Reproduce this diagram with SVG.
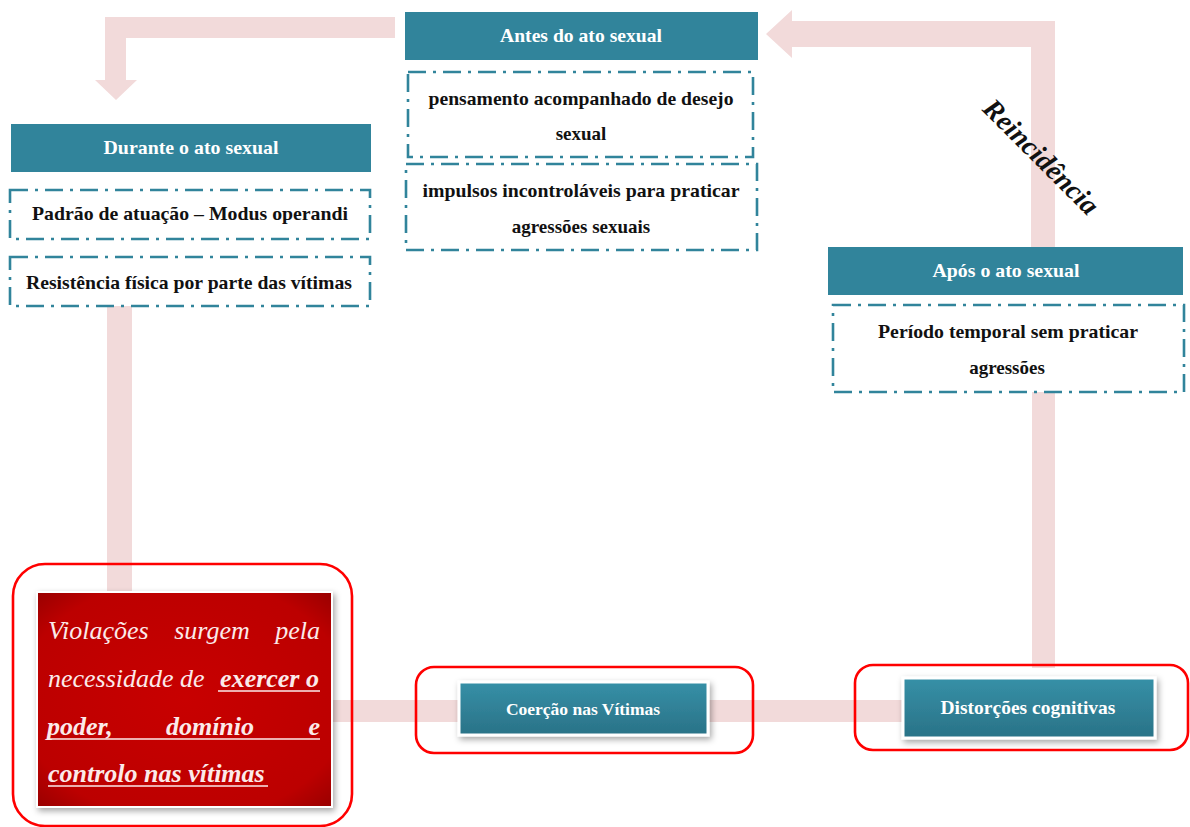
<svg xmlns="http://www.w3.org/2000/svg" width="1190" height="827" viewBox="0 0 1190 827">
<defs>
<style>
.band{fill:#F2DADA}
.hdr{fill:#31849B}
.hdrt{font-family:"Liberation Serif",serif;font-weight:bold;font-size:19px;fill:#FFFFFF;text-anchor:middle}
.dd{fill:#FFFFFF;stroke:#31849B;stroke-width:2.6;stroke-dasharray:18 7 3 7}
.bt{font-family:"Liberation Serif",serif;font-weight:bold;font-size:19px;fill:#111111;text-anchor:middle}
.frame{fill:none;stroke:#FF0000;stroke-width:2.6}
.btn{fill:url(#tg);stroke:#FFFFFF;stroke-width:3;filter:url(#sh)}
.btnt{font-family:"Liberation Serif",serif;font-weight:bold;fill:#FFFFFF;text-anchor:middle}
.vt{font-family:"Liberation Serif",serif;font-style:italic;font-size:26px;fill:#FBEAEA}
.vb{font-weight:bold}
.ul{stroke:#FBEAEA;stroke-width:1.6}
</style>
<linearGradient id="tg" x1="0" y1="0" x2="0" y2="1">
<stop offset="0" stop-color="#3690A7"/>
<stop offset="1" stop-color="#2A7287"/>
</linearGradient>
<radialGradient id="rg" cx="0.5" cy="0.5" r="0.7">
<stop offset="0" stop-color="#C80000"/>
<stop offset="0.8" stop-color="#BC0000"/>
<stop offset="1" stop-color="#9A0000"/>
</radialGradient>
<filter id="sh" x="-10%" y="-20%" width="125%" height="150%">
<feDropShadow dx="2" dy="3" stdDeviation="3" flood-color="#000000" flood-opacity="0.35"/>
</filter>
</defs>

<g id="connectors">
<path class="band" d="M395,17 L105,17 L105,80 L95,80 L116,100 L137,80 L126,80 L126,38 L395,38 Z"/>
<path class="band" d="M766,34 L792,10 L792,21 L1055,21 L1055,247 L1031,247 L1031,47 L792,47 L792,58 Z"/>
<rect class="band" x="107" y="306" width="25" height="290"/>
<rect class="band" x="1032" y="392" width="23" height="276"/>
<rect class="band" x="330" y="700" width="580" height="22"/>
</g>

<g id="antes">
<rect class="hdr" x="405" y="12" width="353" height="48"/>
<text class="hdrt" x="581" y="42" textLength="162" lengthAdjust="spacingAndGlyphs">Antes do ato sexual</text>
</g>
<g id="antes-1">
<rect class="dd" x="408" y="72" width="345" height="85"/>
<text class="bt" x="581" y="105" textLength="305" lengthAdjust="spacingAndGlyphs">pensamento acompanhado de desejo</text>
<text class="bt" x="581" y="140">sexual</text>
</g>
<g id="antes-2">
<rect class="dd" x="406" y="164" width="351" height="86"/>
<text class="bt" x="581" y="197" textLength="317" lengthAdjust="spacingAndGlyphs">impulsos incontroláveis para praticar</text>
<text class="bt" x="581" y="233">agressões sexuais</text>
</g>

<g id="durante">
<rect class="hdr" x="11" y="124" width="360" height="48"/>
<text class="hdrt" x="191" y="154" textLength="175" lengthAdjust="spacingAndGlyphs">Durante o ato sexual</text>
</g>
<g id="durante-1">
<rect class="dd" x="10" y="190" width="360" height="49"/>
<text class="bt" x="190" y="220" textLength="316" lengthAdjust="spacingAndGlyphs">Padrão de atuação – Modus operandi</text>
</g>
<g id="durante-2">
<rect class="dd" x="10" y="257" width="360" height="49"/>
<text class="bt" x="189" y="289" textLength="326" lengthAdjust="spacingAndGlyphs">Resistência física por parte das vítimas</text>
</g>

<g id="apos">
<rect class="hdr" x="828" y="247" width="355" height="48"/>
<text class="hdrt" x="1006" y="277" textLength="147" lengthAdjust="spacingAndGlyphs">Após o ato sexual</text>
</g>
<g id="apos-1">
<rect class="dd" x="833" y="305" width="351" height="87"/>
<text class="bt" x="1008" y="338" textLength="260" lengthAdjust="spacingAndGlyphs">Período temporal sem praticar</text>
<text class="bt" x="1007" y="374">agressões</text>
</g>

<g id="reincidencia">
<text transform="translate(1041,157) rotate(45)" x="0" y="9" font-family="Liberation Serif, serif" font-weight="bold" font-style="italic" font-size="28" text-anchor="middle" fill="#111111">Reincidência</text>
</g>

<g id="violacoes">
<rect class="frame" x="13" y="564" width="339" height="262" rx="32"/>
<rect x="37" y="592" width="295" height="215" fill="url(#rg)" stroke="#FFFFFF" stroke-width="2" filter="url(#sh)"/>
<text class="vt" x="48" y="639">Violações</text>
<text class="vt" x="212" y="639" text-anchor="middle">surgem</text>
<text class="vt" x="320" y="639" text-anchor="end">pela</text>
<text class="vt" x="48" y="687">necessidade de</text>
<text class="vt vb" x="319" y="687" text-anchor="end">exercer o</text>
<line class="ul" x1="218" y1="691" x2="320" y2="691"/>
<text class="vt vb" x="47" y="735">poder,</text>
<text class="vt vb" x="210" y="735" text-anchor="middle">domínio</text>
<text class="vt vb" x="320" y="735" text-anchor="end">e</text>
<line class="ul" x1="47" y1="739" x2="320" y2="739"/>
<text class="vt vb" x="48" y="782">controlo nas vítimas</text>
<line class="ul" x1="48" y1="786" x2="268" y2="786"/>
</g>

<g id="coercao">
<rect class="frame" x="416" y="667" width="337" height="86" rx="18"/>
<rect class="btn" x="459" y="682" width="249" height="53"/>
<text class="btnt" x="583" y="715" font-size="17.5">Coerção nas Vítimas</text>
</g>

<g id="distorcoes">
<rect class="frame" x="855" y="665" width="333" height="85" rx="18"/>
<rect class="btn" x="903" y="678" width="252" height="60"/>
<text class="btnt" x="1028" y="714" font-size="19.5">Distorções cognitivas</text>
</g>
</svg>
